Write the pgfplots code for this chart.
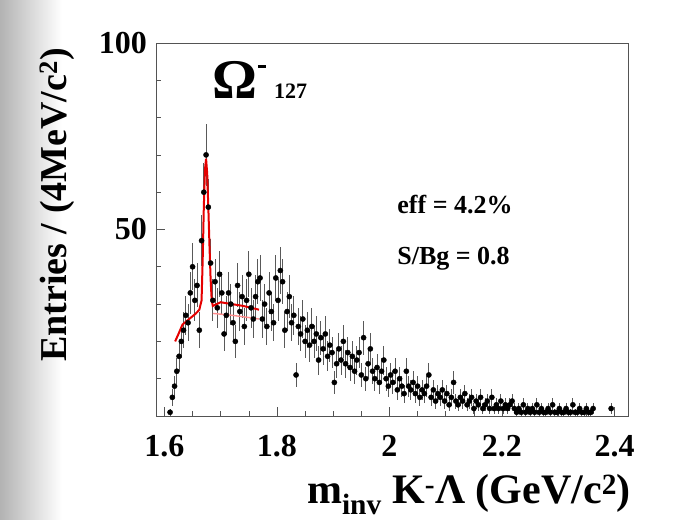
\documentclass[border=0pt]{standalone}
\usepackage{fontspec}
\setmainfont{Liberation Serif}
\usepackage{pgfplots}
\pgfplotsset{compat=1.18}
\usepackage{pgfplotstable}

\pgfplotstableread{
x y e
1.610 1 1.0
1.614 5 2.2
1.618 8 2.8
1.622 12 3.5
1.626 16 4.0
1.630 20 4.5
1.634 23 4.8
1.638 27 5.2
1.642 25 5.0
1.646 33 5.7
1.650 40 6.3
1.654 31 5.6
1.658 35 5.9
1.662 23 4.8
1.666 47 6.9
1.670 60 7.7
1.674 70 8.4
1.678 56 7.5
1.682 41 6.4
1.686 31 5.6
1.690 36 6.0
1.694 29 5.4
1.698 38 6.2
1.702 33 5.7
1.706 22 4.7
1.710 27 5.2
1.714 33 5.7
1.718 30 5.5
1.722 25 5.0
1.726 20 4.5
1.730 35 5.9
1.734 28 5.3
1.738 32 5.7
1.742 24 4.9
1.746 31 5.6
1.750 38 6.2
1.754 29 5.4
1.758 26 5.1
1.762 32 5.7
1.766 36 6.0
1.770 37 6.1
1.774 26 5.1
1.778 30 5.5
1.782 24 4.9
1.786 33 5.7
1.790 28 5.3
1.794 25 5.0
1.798 37 6.1
1.802 31 5.6
1.806 39 6.2
1.810 36 6.0
1.814 23 4.8
1.818 28 5.3
1.822 32 5.7
1.826 25 5.0
1.830 27 5.2
1.834 11 3.3
1.838 24 4.9
1.842 22 4.7
1.846 26 5.1
1.850 20 4.5
1.854 23 4.8
1.858 19 4.4
1.862 24 4.9
1.866 20 4.5
1.870 22 4.7
1.874 15 3.9
1.878 21 4.6
1.882 18 4.2
1.886 22 4.7
1.890 16 4.0
1.894 19 4.4
1.898 17 4.1
1.902 9 3.0
1.906 14 3.7
1.910 18 4.2
1.914 15 3.9
1.918 20 4.5
1.922 14 3.7
1.926 17 4.1
1.930 13 3.6
1.934 16 4.0
1.938 12 3.5
1.942 15 3.9
1.946 17 4.1
1.950 11 3.3
1.954 21 4.6
1.958 10 3.2
1.962 14 3.7
1.966 18 4.2
1.970 12 3.5
1.974 10 3.2
1.978 13 3.6
1.982 9 3.0
1.986 12 3.5
1.990 15 3.9
1.994 10 3.2
1.998 8 2.8
2.002 11 3.3
2.006 9 3.0
2.010 12 3.5
2.014 7 2.6
2.018 10 3.2
2.022 8 2.8
2.026 6 2.4
2.030 12 3.5
2.034 8 2.8
2.038 7 2.6
2.042 9 3.0
2.046 6 2.4
2.050 8 2.8
2.054 5 2.2
2.058 7 2.6
2.062 6 2.4
2.066 8 2.8
2.070 11 3.3
2.074 5 2.2
2.078 7 2.6
2.082 4 2.0
2.086 6 2.4
2.090 5 2.2
2.094 7 2.6
2.098 4 2.0
2.102 6 2.4
2.106 3 1.7
2.110 5 2.2
2.114 9 3.0
2.118 4 2.0
2.122 3 1.7
2.126 5 2.2
2.130 4 2.0
2.134 6 2.4
2.138 3 1.7
2.142 4 2.0
2.146 5 2.2
2.150 2 1.4
2.154 4 2.0
2.158 3 1.7
2.162 5 2.2
2.166 2 1.4
2.170 3 1.7
2.174 4 2.0
2.178 2 1.4
2.182 5 2.2
2.186 2 1.4
2.190 3 1.7
2.194 2 1.4
2.198 4 2.0
2.202 2 1.4
2.206 3 1.7
2.210 2 1.4
2.214 3 1.7
2.218 4 2.0
2.222 2 1.4
2.226 1 1.0
2.230 2 1.4
2.234 1 1.0
2.238 3 1.7
2.242 1 1.0
2.246 2 1.4
2.250 1 1.0
2.254 2 1.4
2.258 1 1.0
2.262 3 1.7
2.266 1 1.0
2.270 2 1.4
2.274 1 1.0
2.278 1 1.0
2.282 2 1.4
2.286 1 1.0
2.290 3 1.7
2.294 1 1.0
2.298 1 1.0
2.302 2 1.4
2.306 1 1.0
2.310 1 1.0
2.314 2 1.4
2.318 1 1.0
2.322 1 1.0
2.326 3 1.7
2.330 1 1.0
2.334 1 1.0
2.338 2 1.4
2.342 1 1.0
2.346 1 1.0
2.350 2 1.4
2.354 1 1.0
2.358 1 1.0
2.362 2 1.4
2.394 2 1.4
}\histdata

\pgfplotstableread{
x y
1.619 20
1.625 22
1.632 24.5
1.640 25.5
1.648 26.5
1.656 27.5
1.662 28.5
1.666 31
1.668 42
1.670 56
1.672 66
1.674 69
1.676 65
1.678 56
1.680 46
1.682 37
1.684 31
1.686 29.5
1.700 30.5
1.720 30
1.740 29.5
1.760 28.8
1.768 28.5
}\fitdata

\pgfplotstableread{
x y
1.686 27.5
1.700 27.3
1.720 27.0
1.740 26.6
1.760 26.2
1.768 26.0
}\bgdata

\begin{document}
\begin{tikzpicture}
\useasboundingbox (0,0) rectangle (693bp,520bp);
\shade[left color=gray!60, right color=white] (0,0) rectangle (62bp,520bp);
\begin{axis}[
  at={(156bp,104bp)}, anchor=south west,
  scale only axis, width=472bp, height=373bp,
  xmin=1.585, xmax=2.424, ymin=0, ymax=100,
  xtick={1.6,1.8,2,2.2,2.4},
  minor xtick={1.65,1.7,1.75,1.85,1.9,1.95,2.05,2.1,2.15,2.25,2.3,2.35},
  ytick={50,100},
  minor ytick={10,20,30,40,60,70,80,90},
  xtick pos=bottom, ytick pos=left, tick align=inside,
  major tick length=9bp, minor tick length=5bp,
  axis line style={gray!65!black, line width=0.9bp},
  every tick/.style={gray!65!black, line width=0.6bp},
  /pgf/number format/assume math mode=true,
  ticklabel style={font=\bfseries\fontsize{32bp}{36bp}\selectfont},
  xticklabel style={inner sep=0pt, yshift=-19bp},
  yticklabel style={inner sep=0pt, xshift=-9bp},
  xticklabels={1.6,1.8,2,2.2,2.4},
  yticklabels={50,100},
]
\addplot[only marks, mark=*, mark size=2.6bp, black,
  error bars/.cd, y dir=both, y explicit,
  error bar style={black!65, line width=1.1bp}, error mark=none]
  table[x=x, y=y, y error=e] {\histdata};
\addplot[red!45, line width=1.4bp] table[x=x,y=y] {\bgdata};
\addplot[red!90!black, line width=2bp] table[x=x,y=y] {\fitdata};
\node[anchor=base west, inner sep=0pt] at (rel axis cs:0.119,0.85)
  {\bfseries\fontsize{56bp}{56bp}\selectfont Ω\hspace{1bp}\raisebox{31bp}{\rule{8bp}{2.6bp}}\hspace{8bp}\fontsize{22bp}{22bp}\selectfont 127};
\node[anchor=base west, inner sep=0pt] at (rel axis cs:0.511,0.542)
  {\bfseries\fontsize{26bp}{26bp}\selectfont eff = 4.2\%};
\node[anchor=base west, inner sep=0pt] at (rel axis cs:0.511,0.407)
  {\bfseries\fontsize{26bp}{26bp}\selectfont S/Bg = 0.8};
\end{axis}
\node[anchor=base, inner sep=0pt] at (469bp,17bp)
  {\bfseries\fontsize{42bp}{46bp}\selectfont m\textsubscript{inv} K\textsuperscript{-}Λ (GeV/c\textsuperscript{2})};
\node[rotate=90, anchor=center, inner sep=0pt] at (57bp,315bp)
  {\bfseries\fontsize{38bp}{42bp}\selectfont Entries / (4MeV/c\textsuperscript{2})};
\end{tikzpicture}
\end{document}
